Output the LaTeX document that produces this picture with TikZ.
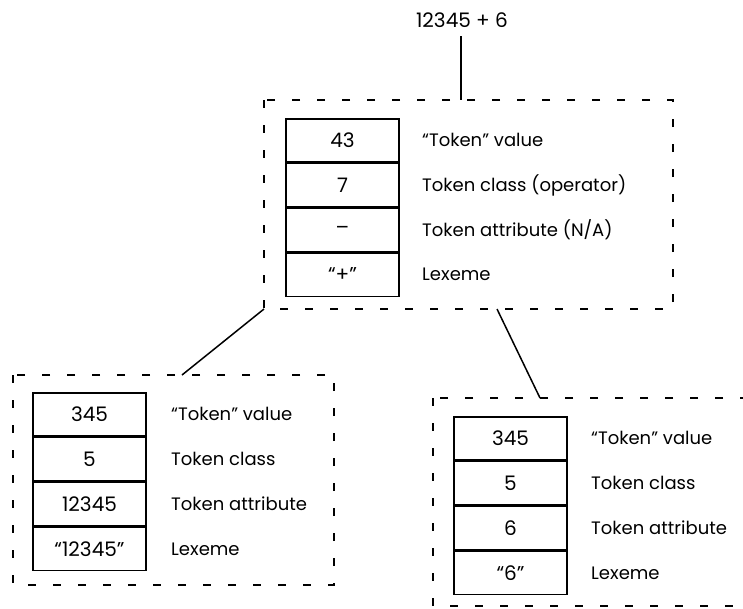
\documentclass[tikz,border=0pt]{standalone}
\usepackage{fontspec}
\setmainfont{Poppins}
\usetikzlibrary{calc}
\tikzset{
  cell/.style={draw, line width=1.6pt, minimum width=113pt, minimum height=43.2pt, inner sep=0pt, anchor=north, font=\fontsize{20}{24}\selectfont},
  lbl/.style={anchor=west, inner sep=0pt, font=\fontsize{18}{22}\selectfont},
  frame/.style={draw, line width=1.5pt, dash pattern=on 8pt off 17pt},
  link/.style={line width=1.5pt}
}
\begin{document}
\begin{tikzpicture}[x=1pt,y=-1pt]
\useasboundingbox (0,0) rectangle (743,608);
\clip (0,0) rectangle (743,608);
\coordinate (xT) at (422,0);
\coordinate (xL) at (171,0);
\coordinate (xR) at (591,0);
% expression
\node[inner sep=0pt, font=\fontsize{20}{24}\selectfont] (expr) at (462,20) {12345 + 6};
% top frame
\draw[frame] (264,100) rectangle (673,309);
\coordinate (topN) at (461,100);
\coordinate (topT) at (461,36);
\coordinate (topSW) at (264,309);
\coordinate (topS) at (497,309);
\node[cell] (t1) at (342.5,118) {43};
\node[cell] (t2) at (t1.south) {7};
\node[cell] (t3) at (t2.south) {--};
\node[cell] (t4) at (t3.south) {``+''};
\node[lbl] (tl1) at (xT |- t1) {``Token'' value};
\node[lbl] (tl2) at (xT |- t2) {Token class (operator)};
\node[lbl] (tl3) at (xT |- t3) {Token attribute (N/A)};
\node[lbl] (tl4) at (xT |- t4) {Lexeme};
% left frame
\draw[frame] (13,375) rectangle (334,585);
\coordinate (leftN) at (182,375);
\node[cell] (l1) at (89.5,392) {345};
\node[cell] (l2) at (l1.south) {5};
\node[cell] (l3) at (l2.south) {12345};
\node[cell] (l4) at (l3.south) {``12345''};
\node[lbl] (ll1) at (xL |- l1) {``Token'' value};
\node[lbl] (ll2) at (xL |- l2) {Token class};
\node[lbl] (ll3) at (xL |- l3) {Token attribute};
\node[lbl] (ll4) at (xL |- l4) {Lexeme};
% right frame
\draw[frame] (433,398) rectangle (770,606);
\coordinate (rightN) at (540,398);
\node[cell] (r1) at (510.5,416) {345};
\node[cell] (r2) at (r1.south) {5};
\node[cell] (r3) at (r2.south) {6};
\node[cell] (r4) at (r3.south) {``6''};
\node[lbl] (rl1) at (xR |- r1) {``Token'' value};
\node[lbl] (rl2) at (xR |- r2) {Token class};
\node[lbl] (rl3) at (xR |- r3) {Token attribute};
\node[lbl] (rl4) at (xR |- r4) {Lexeme};
% connectors
\draw[link] (topT) -- (topN);
\draw[link] (topSW) -- (leftN);
\draw[link] (topS) -- (rightN);
\end{tikzpicture}
\end{document}
